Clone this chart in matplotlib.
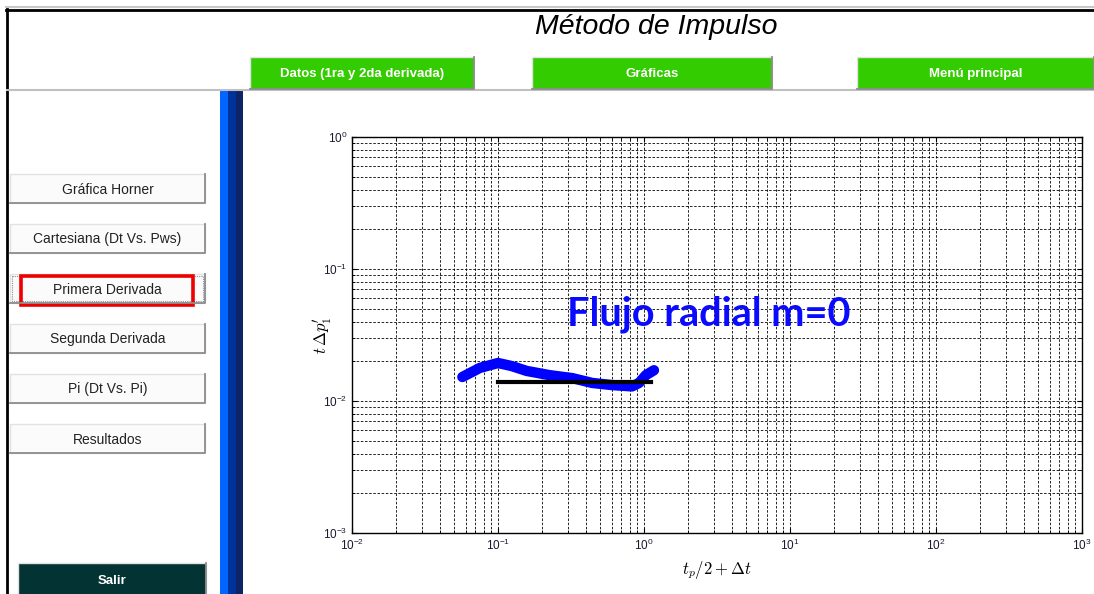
import matplotlib
matplotlib.use('Agg')
import matplotlib.pyplot as plt
from matplotlib.patches import Rectangle

plt.rcParams['font.family'] = ['Liberation Sans', 'DejaVu Sans']
plt.rcParams['mathtext.fontset'] = 'custom'
plt.rcParams['mathtext.rm'] = 'Liberation Sans'
plt.rcParams['mathtext.it'] = 'Liberation Sans:italic'

# derivative curve (blue) and radial flow line (black)
t_deriv = [0.057, 0.075, 0.100, 0.124, 0.157, 0.225, 0.323, 0.442, 0.605, 0.828, 0.925, 1.03, 1.17]
dp_deriv = [0.0152, 0.0178, 0.0194, 0.0184, 0.0169, 0.0157, 0.0149, 0.0137, 0.0132, 0.0129, 0.0137, 0.0157, 0.0171]
t_radial = [0.1, 1.12]
dp_radial = [0.0139, 0.0139]

side_buttons = ['Gráfica Horner', 'Cartesiana (Dt Vs. Pws)', 'Primera Derivada',
                'Segunda Derivada', 'Pi (Dt Vs. Pi)', 'Resultados']
top_buttons = ['Datos (1ra y 2da derivada)', 'Gráficas', 'Menú principal']
selected = 'Primera Derivada'

W, H = 1094, 594
fig = plt.figure(figsize=(W / 100, H / 100), dpi=100)

# background "window" drawn in pixel coords
bg = fig.add_axes([0, 0, 1, 1])
bg.set_xlim(0, W)
bg.set_ylim(H, 0)
bg.axis('off')

bg.plot([6, W], [7, 7], color='#c8c8c8', lw=1.5)
bg.plot([6, W], [9.5, 9.5], color='black', lw=2)
bg.plot([7, 7], [9, H], color='black', lw=2)
bg.plot([7, W], [89.5, 89.5], color='#c0c0c0', lw=1.5)

# blue side bar
bg.add_patch(Rectangle((220, 90), 8, H - 90, facecolor='#0066ff', lw=0))
bg.add_patch(Rectangle((228, 90), 8, H - 90, facecolor='#003399', lw=0))
bg.add_patch(Rectangle((236, 90), 7, H - 90, facecolor='#0d2566', lw=0))

bg.text(656, 27, 'Método de Impulso', fontsize=20.5, style='italic',
        ha='center', va='center', color='black')


def button(x, y, w, h, label, face, tcolor, bold=False, size=9):
    bg.add_patch(Rectangle((x, y), w, h, facecolor=face, edgecolor='#e2e2e2', lw=1))
    bg.plot([x, x + w, x + w], [y + h, y + h, y], color='#8c8c8c', lw=1.3)
    bg.text(x + w / 2, y + h / 2 + 1, label, fontsize=size, color=tcolor,
            ha='center', va='center', fontweight='bold' if bold else 'normal')


top_x = [250, 532, 857]
top_w = [224, 240, 237]
for i, lab in enumerate(top_buttons):
    button(top_x[i], 57, top_w[i], 32, lab, '#33cc00', 'white', bold=True, size=9.5)

for i, lab in enumerate(side_buttons):
    y0 = 174 + 50 * i
    button(10, y0, 195, 29, lab, '#fbfbfb', '#222222', size=10)
    if lab == selected:
        bg.add_patch(Rectangle((12, y0 + 2), 191, 25, fill=False, edgecolor='#909090',
                               lw=0.8, linestyle=(0, (1, 1))))
        bg.add_patch(Rectangle((21, y0 + 1.5), 172, 29, fill=False, edgecolor='#ee0000', lw=2.6))

button(18, 563, 188, 34, 'Salir', '#043333', 'white', bold=True, size=9.5)

# plot axes
ax = fig.add_axes([352 / W, 1 - 533 / H, 730 / W, 396 / H])
ax.set_xscale('log')
ax.set_yscale('log')
ax.set_xlim(1e-2, 1e3)
ax.set_ylim(1e-3, 1)
ax.grid(True, which='both', color='black', linestyle=(0, (3, 2)), lw=0.6)
ax.set_axisbelow(True)
ax.tick_params(which='both', direction='in', top=True, right=True,
               labelsize=8.5, labelcolor='#1a1a30')
for s in ax.spines.values():
    s.set_linewidth(1.0)

ax.plot(t_deriv, dp_deriv, color='#0000ff', lw=7.5,
        solid_capstyle='round', solid_joinstyle='round')
ax.plot(t_radial, dp_radial, color='black', lw=3)

ax.text(0.298, 0.0456, 'Flujo radial m=0', fontsize=28.5, fontweight='bold',
        color='#0a0aff', family=['Lato', 'DejaVu Sans'], ha='left', va='center')

ax.set_xlabel(r'$t_p/2 + \Delta t$', math_fontfamily='cm', fontsize=12)
ax.set_ylabel(r"$t\,\Delta p_1'$", math_fontfamily='cm', fontsize=12, labelpad=-8)

fig.savefig('out.png', dpi=100)
plt.close('all')
